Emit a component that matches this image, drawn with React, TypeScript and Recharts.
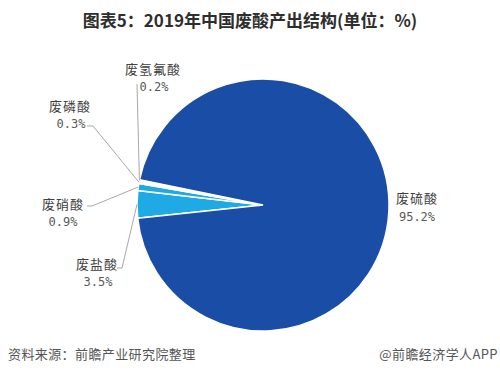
import React from 'react';
import { PieChart, Pie, Cell } from 'recharts';

const categories = ['废盐酸', '废硝酸', '废磷酸', '废氢氟酸', '废硫酸'];
const shares = [3.5, 0.9, 0.3, 0.2, 95.2];
const valueLabels = ['3.5%', '0.9%', '0.3%', '0.2%', '95.2%'];
const sliceColors = ['#1FAAE6', '#1FAAE6', '#FFFFFF', '#FFFFFF', '#1A4EA6'];

const title = '图表5：2019年中国废酸产出结构(单位：%)';
const sourceNote = '资料来源：前瞻产业研究院整理';
const brandNote = '@前瞻经济学人APP';

const data = categories.map((name, i) => ({ name, value: shares[i], text: valueLabels[i] }));

// label layout (text centres and leader-line elbows), in chart pixels
const labelLayout = [
  { nx: 97, ny: 263, vx: 98, vy: 282, lead: [[117, 268], [122, 268]] },
  { nx: 63, ny: 203, vx: 63, vy: 222, lead: [[87, 206], [92, 206]] },
  { nx: 70, ny: 105, vx: 71, vy: 124, lead: [[87, 126], [93, 126]] },
  { nx: 153, ny: 68, vx: 154, vy: 87, lead: [[137, 84]] },
  { nx: 417, ny: 197, vx: 417, vy: 217, lead: null },
];

const RAD = Math.PI / 180;

const renderLabel = (props: any) => {
  const { cx, cy, midAngle, outerRadius, index } = props;
  const L = labelLayout[index];
  const tx = cx + outerRadius * Math.cos(-midAngle * RAD);
  const ty = cy + outerRadius * Math.sin(-midAngle * RAD);
  let pts = '';
  if (L.lead) {
    pts = L.lead.map((p) => p.join(',')).join(' ') + ` ${tx},${ty}`;
  }
  return (
    <g key={`lbl-${index}`}>
      {L.lead && <polyline points={pts} fill="none" stroke="#A8A8A8" strokeWidth={1} />}
      <text
        x={L.nx}
        y={L.ny}
        textAnchor="middle"
        dominantBaseline="central"
        fontFamily="'Noto Sans CJK SC', sans-serif"
        fontSize={13}
        letterSpacing={1}
        fill="#404040"
      >
        {categories[index]}
      </text>
      <text
        x={L.vx}
        y={L.vy}
        textAnchor="middle"
        dominantBaseline="central"
        fontFamily="'DejaVu Sans Mono', monospace"
        fontSize={12}
        fill="#595959"
      >
        {valueLabels[index]}
      </text>
    </g>
  );
};

export default function App() {
  return (
    <div style={{ position: 'absolute', left: 0, top: 0, width: 500, height: 383, background: '#fff', overflow: 'hidden' }}>
      <div
        style={{
          position: 'absolute',
          left: 0,
          top: 8,
          width: 500,
          textAlign: 'center',
          fontFamily: "'Noto Sans CJK SC', sans-serif",
          fontWeight: 700,
          fontSize: 17,
          lineHeight: '24px',
          color: '#2e2e2e',
        }}
      >
        {title}
      </div>
      <div style={{ position: 'absolute', left: 0, top: 0 }}>
        <PieChart width={500} height={383}>
          <Pie
            data={data}
            dataKey="value"
            nameKey="name"
            cx={258}
            cy={200}
            outerRadius={126}
            startAngle={186}
            endAngle={-174}
            stroke="#FFFFFF"
            strokeWidth={1.5}
            label={renderLabel}
            labelLine={false}
            isAnimationActive={false}
          >
            {data.map((d, i) => (
              <Cell key={d.name} fill={sliceColors[i]} />
            ))}
          </Pie>
        </PieChart>
      </div>
      <div
        style={{
          position: 'absolute',
          left: 8,
          top: 345,
          fontFamily: "'Noto Sans CJK SC', sans-serif",
          fontSize: 13,
          letterSpacing: 0.4,
          lineHeight: '18px',
          color: '#555',
        }}
      >
        {sourceNote}
      </div>
      <div
        style={{
          position: 'absolute',
          right: 2,
          top: 345,
          fontFamily: "'Noto Sans CJK SC', sans-serif",
          fontSize: 13,
          letterSpacing: 0.4,
          lineHeight: '18px',
          color: '#555',
        }}
      >
        {brandNote}
      </div>
    </div>
  );
}
